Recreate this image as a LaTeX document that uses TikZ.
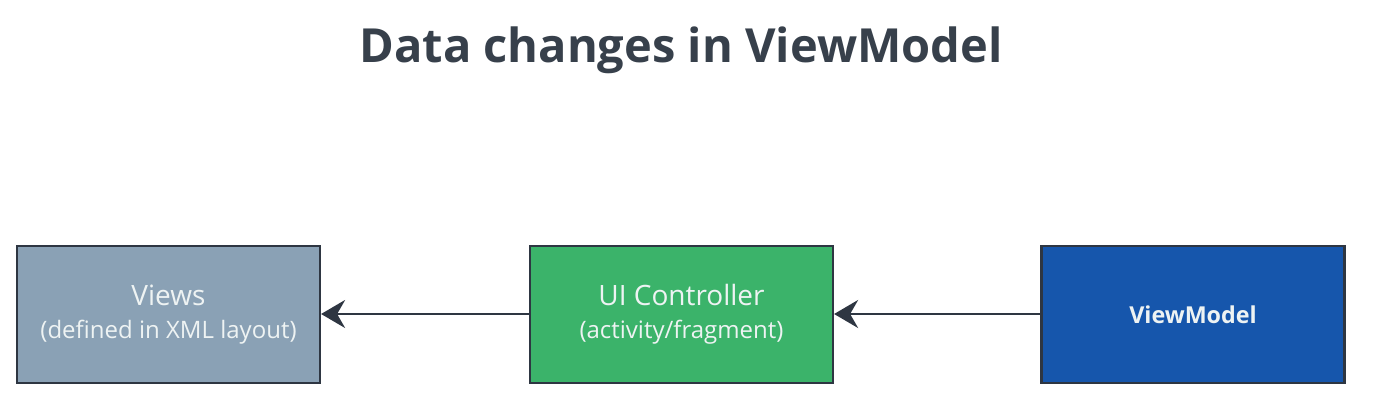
\documentclass[tikz,border=0pt]{standalone}
\usepackage{fontspec}
\setmainfont{Open Sans}
\usetikzlibrary{arrows.meta}
\definecolor{titlec}{HTML}{37404B}
\definecolor{edgec}{HTML}{2E3642}
\definecolor{viewsc}{HTML}{8AA1B5}
\definecolor{ctrlc}{HTML}{3BB36A}
\definecolor{vmc}{HTML}{1656AC}
\definecolor{txtc}{HTML}{EEF3F3}
\tikzset{
  box/.style={draw=edgec, line width=2.2pt, minimum width=303pt, minimum height=137pt,
    inner sep=0pt, text=txtc, align=center, font=\fontsize{28}{34}\selectfont},
  conn/.style={draw=edgec, line width=2.4pt, -{Stealth[length=24pt,width=28pt,inset=8pt]}}
}
\begin{document}
\begin{tikzpicture}[x=1pt,y=1pt]
\useasboundingbox[fill=white] (0,0) rectangle (1374,416);
\node[font=\fontsize{47}{56}\selectfont\bfseries, text=titlec] (title) at (681,366) {Data changes in ViewModel};
\node[box, fill=viewsc] (views) at (168.5,101.5) {Views\\[-1pt]{\fontsize{24}{30}\selectfont (defined in XML layout)}};
\node[box, fill=ctrlc] (ctrl) at (681.5,101.5) {UI Controller\\[-1pt]{\fontsize{24}{30}\selectfont (activity/fragment)}};
\node[box, fill=vmc, font=\fontsize{23.3}{28}\selectfont\bfseries] (vm) at (1193,101.5) {ViewModel};
\draw[conn] (ctrl.west |- 0,102) -- (views.east |- 0,102);
\draw[conn] (vm.west |- 0,102) -- (ctrl.east |- 0,102);
\end{tikzpicture}
\end{document}
